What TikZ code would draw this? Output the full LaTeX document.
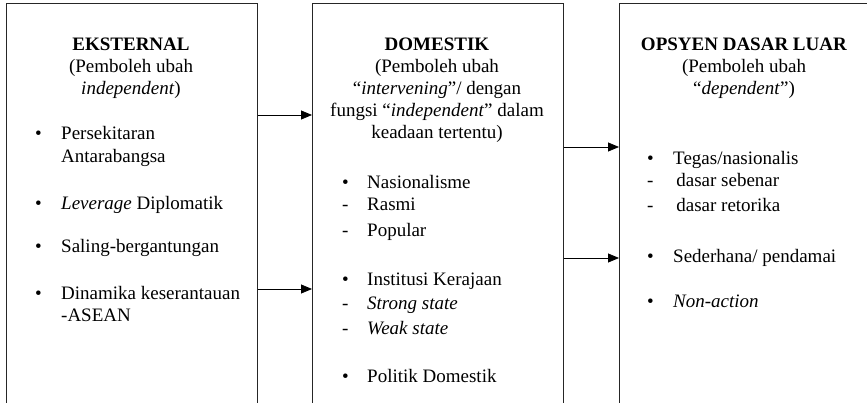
\documentclass[tikz,border=0pt]{standalone}
\usepackage{fontspec}
\setmainfont{Liberation Serif}
\usetikzlibrary{arrows.meta}

\begin{document}
\begin{tikzpicture}[x=1pt, y=-1pt,
    box/.style={draw=black!85, line width=1.1pt, anchor=north west, minimum height=460pt},
    head/.style={anchor=base, align=center, inner sep=0pt, font=\fontsize{19}{22}\selectfont},
    item/.style={anchor=base west, inner sep=0pt, font=\fontsize{19}{23}\selectfont},
    arr/.style={line width=0.8pt, -{Triangle[length=11pt, width=9pt]}}]
    \useasboundingbox (0,0) rectangle (867,403);
    \clip (0,0) rectangle (867,403);

    % Draw boxes
    \node[box, minimum width=251pt] (ext) at (6,3) {};
    \node[box, minimum width=251pt] (dom) at (312,3) {};
    \node[box, minimum width=300pt] (opsyen) at (619,3) {};

    % Headings (base = last line)
    \node[head] (exthead) at (131,95) {\textbf{EKSTERNAL}\\(Pemboleh ubah\\\textit{independent})};
    \node[head] (domhead) at (437,139) {\textbf{DOMESTIK}\\(Pemboleh ubah\\``\textit{intervening}''/ dengan\\fungsi ``\textit{independent}'' dalam\\keadaan tertentu)};
    \node[head] (ophead) at (744,95) {\textbf{OPSYEN DASAR LUAR}\\(Pemboleh ubah\\``\textit{dependent}'')};

    % Lists
    \foreach \y/\m/\t [count=\i] in {140/\textbullet/Persekitaran, 163//Antarabangsa,
        210/\textbullet/{\textit{Leverage} Diplomatik}, 253/\textbullet/Saling-bergantungan,
        299/\textbullet/Dinamika keserantauan, 321//-ASEAN}{
        \node[item] (em\i) at (35,\y) {\m};
        \node[item] (et\i) at (61,\y) {\t};
    }
    \foreach \y/\m/\t [count=\i] in {189/\textbullet/Nasionalisme, 211/-/Rasmi, 237/-/Popular,
        285/\textbullet/Institusi Kerajaan, 309/-/\textit{Strong state}, 334/-/\textit{Weak state},
        382/\textbullet/Politik Domestik}{
        \node[item] (dm\i) at (342,\y) {\m};
        \node[item] (dt\i) at (367,\y) {\t};
    }
    \foreach \y/\m/\t [count=\i] in {165/\textbullet/{Tegas/nasionalis}, 187/-/{\,dasar sebenar}, 212/-/{\,dasar retorika},
        262/\textbullet/{Sederhana/ pendamai}, 307/\textbullet/\textit{Non-action}}{
        \node[item] (om\i) at (647,\y) {\m};
        \node[item] (ot\i) at (673,\y) {\t};
    }

    % Draw connections
    \draw[arr] (ext.east |- 0,115) -- (dom.west |- 0,115);
    \draw[arr] (ext.east |- 0,289) -- (dom.west |- 0,289);
    \draw[arr] (dom.east |- 0,147) -- (opsyen.west |- 0,147);
    \draw[arr] (dom.east |- 0,258) -- (opsyen.west |- 0,258);
\end{tikzpicture}
\end{document}
